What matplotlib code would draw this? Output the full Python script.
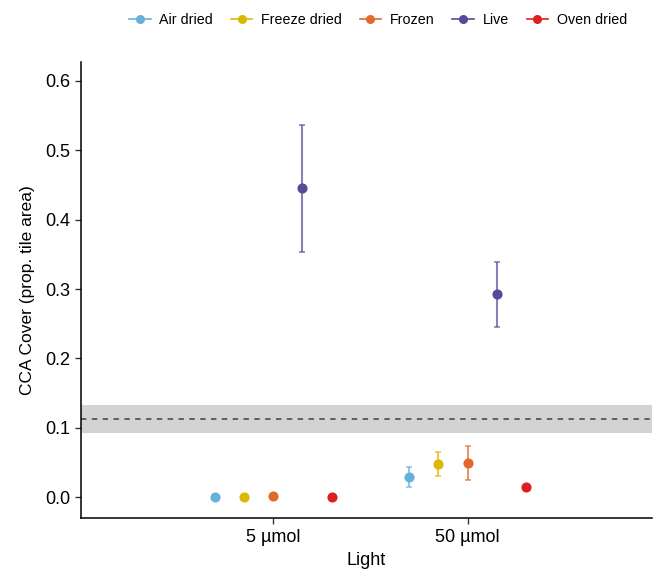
import numpy as np
import matplotlib.pyplot as plt
from matplotlib.lines import Line2D

plt.rcParams['font.family'] = ['Liberation Sans', 'DejaVu Sans']

# data
light = ["5 \u00b5mol", "50 \u00b5mol"]
treatments = ["Air dried", "Freeze dried", "Frozen", "Live", "Oven dried"]
colors = ["#67B0DE", "#DDB800", "#E06A2C", "#574A9B", "#DD1F1F"]

mean_5 = [0.000, 0.000, 0.001, 0.446, 0.000]
lo_5 = [0.000, 0.000, 0.001, 0.354, 0.000]
hi_5 = [0.000, 0.000, 0.001, 0.537, 0.000]

mean_50 = [0.029, 0.048, 0.049, 0.293, 0.015]
lo_50 = [0.014, 0.030, 0.025, 0.245, 0.015]
hi_50 = [0.043, 0.065, 0.074, 0.339, 0.015]

ref_mean = 0.113
ref_lo = 0.092
ref_hi = 0.133

means = np.array([mean_5, mean_50])
los = np.array([lo_5, lo_50])
his = np.array([hi_5, hi_50])

fig = plt.figure(figsize=(6.54, 5.71), dpi=100)
ax = fig.add_axes([0.124, 0.093, 0.873, 0.798])

# reference band
ax.axhspan(ref_lo, ref_hi, color="#D3D3D3", lw=0, zorder=0)
ax.axhline(ref_mean, color="#555555", ls=(0, (3, 3)), lw=1.3, zorder=1)

offsets = np.linspace(-0.3, 0.3, len(treatments))
xpos = np.arange(1, len(light) + 1)
for i, (t, c) in enumerate(zip(treatments, colors)):
    x = xpos + offsets[i]
    y = means[:, i]
    yerr = np.vstack([y - los[:, i], his[:, i] - y])
    ax.errorbar(x, y, yerr=yerr, fmt="none", ecolor=c, alpha=0.7,
                elinewidth=1.5, capsize=2, capthick=1.2, zorder=2)
    ax.plot(x, y, "o", color=c, ms=7.3, mec="none", zorder=3)

ax.set_xlim(0.01, 2.95)
ax.set_ylim(-0.03, 0.627)
ax.set_xticks(xpos)
ax.set_xticklabels(light)
ax.set_yticks(np.arange(0, 0.61, 0.1))
ax.set_yticklabels([f"{v:.1f}" for v in np.arange(0, 0.61, 0.1)])
ax.tick_params(axis="both", labelsize=13, length=4, width=1, color="#333333",
               labelcolor="black", pad=4)
ax.set_xlabel("Light", fontsize=13, labelpad=4)
ax.set_ylabel("CCA Cover (prop. tile area)", fontsize=12.5, labelpad=7)
for s in ["top", "right"]:
    ax.spines[s].set_visible(False)
for s in ["left", "bottom"]:
    ax.spines[s].set_linewidth(1.1)

handles = [Line2D([], [], color=c, marker="o", ms=6.5, mec="none", lw=1.2)
           for c in colors]
fig.legend(handles, treatments, loc="center", bbox_to_anchor=(0.578, 0.965),
           ncol=5, frameon=False, fontsize=10.3, handlelength=1.5,
           handletextpad=0.6, columnspacing=1.25)

fig.savefig("out.png", dpi=100)
